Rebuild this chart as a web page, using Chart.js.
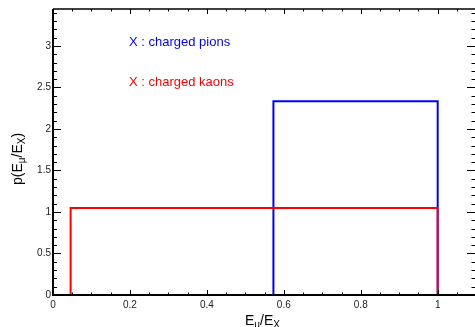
<!DOCTYPE html>
<html lang="en">
  <head>
    <meta charset="UTF-8" />
    <title>p(Eμ/EX) for charged pions and kaons</title>
    <style>
      body {
        margin: 0;
        background: #fff;
        overflow: hidden;
      }
    </style>
  </head>
  <body>
    <canvas id="chart-1" width="475" height="327"></canvas>

    <script src="https://cdn.jsdelivr.net/npm/chart.js"></script>

    <script>
      // step edges (x) and flat height for each decay
      const pionEdges = [0.573, 1.0];
      const pionHeight = 2.333;
      const kaonEdges = [0.0458, 1.0];
      const kaonHeight = 1.048;

      const xTicks = [0, 0.2, 0.4, 0.6, 0.8, 1];
      const yTicks = [0, 0.5, 1, 1.5, 2, 2.5, 3];
      const xRange = [0, 1.097];
      const yRange = [0, 3.445];

      const FONT = "'Liberation Sans', Arial, Helvetica, sans-serif";

      // box shape: up, across, down
      function step(edges, h) {
        return [
          { x: edges[0], y: 0 },
          { x: edges[0], y: h },
          { x: edges[1], y: h },
          { x: edges[1], y: 0 },
        ];
      }

      // ROOT style frame: inward ticks on all four sides + titles + text
      const rootFrame = {
        id: "rootFrame",
        afterDraw(chart) {
          const { ctx, chartArea: a, scales } = chart;
          const xs = scales.x, ys = scales.y;
          ctx.save();
          ctx.strokeStyle = "#000";

          ctx.lineWidth = 2;
          ctx.beginPath();
          ctx.moveTo(a.left, a.top);
          ctx.lineTo(a.left, a.bottom);
          ctx.lineTo(a.right, a.bottom);
          ctx.stroke();
          ctx.lineWidth = 1.5;
          ctx.beginPath();
          ctx.moveTo(a.left, a.top);
          ctx.lineTo(a.right, a.top);
          ctx.stroke();

          ctx.lineWidth = 1;
          ctx.beginPath();
          // x ticks every 0.05, major every 0.2
          for (let i = 0; i <= 22; i++) {
            const v = i * 0.05;
            if (v > xRange[1]) break;
            const px = Math.round(xs.getPixelForValue(v)) + 0.5;
            const len = i % 4 === 0 ? 5 : 2.5;
            ctx.moveTo(px, a.bottom);
            ctx.lineTo(px, a.bottom - len);
            ctx.moveTo(px, a.top);
            ctx.lineTo(px, a.top + len);
          }
          // y ticks every 0.1, major every 0.5
          for (let i = 0; i <= 34; i++) {
            const v = i * 0.1;
            const py = Math.round(ys.getPixelForValue(v)) + 0.5;
            const major = i % 5 === 0;
            ctx.moveTo(a.left, py);
            ctx.lineTo(a.left + (major ? 8 : 4), py);
            ctx.moveTo(a.right, py);
            ctx.lineTo(a.right - (major ? 8 : 3.5), py);
          }
          ctx.stroke();

          // x title E_mu / E_X
          ctx.fillStyle = "#000";
          ctx.textBaseline = "alphabetic";
          ctx.textAlign = "left";
          let x = 245;
          const big = "14px " + FONT, small = "10px " + FONT;
          const pieces = [
            ["E", big, 0],
            ["\u03bc", small, 3],
            ["/E", big, 0],
            ["X", small, 3],
          ];
          for (const [t, f, dy] of pieces) {
            ctx.font = f;
            ctx.fillText(t, x, 325 + dy);
            x += ctx.measureText(t).width;
          }

          // y title p(E_mu / E_X), rotated
          ctx.save();
          ctx.translate(22, 185);
          ctx.rotate(-Math.PI / 2);
          x = 0;
          const piecesY = [
            ["p(E", big, 0],
            ["\u03bc", small, 3],
            ["/E", big, 0],
            ["X", small, 3],
            [")", big, 0],
          ];
          for (const [t, f, dy] of piecesY) {
            ctx.font = f;
            ctx.fillText(t, x, dy);
            x += ctx.measureText(t).width;
          }
          ctx.restore();

          // labels
          ctx.font = "13px " + FONT;
          ctx.fillStyle = "#0000ff";
          ctx.fillText("X : charged pions", 129, 46);
          ctx.fillStyle = "#ff0000";
          ctx.fillText("X : charged kaons", 129, 86);

          ctx.restore();
        },
      };

      const fmt = (v) => String(+v.toFixed(2));

      const ctx = document.getElementById("chart-1");
      const chart = new Chart(ctx, {
        type: "line",
        data: {
          datasets: [
            {
              label: "X : charged kaons",
              data: step(kaonEdges, kaonHeight),
              borderColor: "#ff0000",
              borderWidth: 2,
              pointRadius: 0,
              fill: false,
              tension: 0,
            },
            {
              label: "X : charged pions",
              data: step(pionEdges, pionHeight),
              borderColor: "#0000ff",
              borderWidth: 2,
              pointRadius: 0,
              fill: false,
              tension: 0,
            },
          ],
        },
        options: {
          responsive: false,
          animation: false,
          layout: { padding: { top: 9, right: 0, left: 0, bottom: 0 } },
          plugins: { legend: { display: false }, tooltip: { enabled: false } },
          scales: {
            x: {
              type: "linear",
              min: xRange[0],
              max: xRange[1],
              border: { display: false },
              grid: { display: false, drawTicks: false },
              afterFit: (s) => { s.height = 32; },
              afterBuildTicks: (s) => { s.ticks = xTicks.map((v) => ({ value: v })); },
              ticks: {
                padding: 4,
                maxRotation: 0,
                autoSkip: false,
                color: "#222",
                font: { family: FONT, size: 10 },
                callback: fmt,
              },
            },
            y: {
              type: "linear",
              min: yRange[0],
              max: yRange[1],
              border: { display: false },
              grid: { display: false, drawTicks: false },
              afterFit: (s) => { s.width = 53; },
              afterBuildTicks: (s) => { s.ticks = yTicks.map((v) => ({ value: v })); },
              ticks: {
                padding: 2,
                autoSkip: false,
                color: "#222",
                font: { family: FONT, size: 10 },
                callback: fmt,
              },
            },
          },
        },
        plugins: [rootFrame],
      });
    </script>
  </body>
</html>
